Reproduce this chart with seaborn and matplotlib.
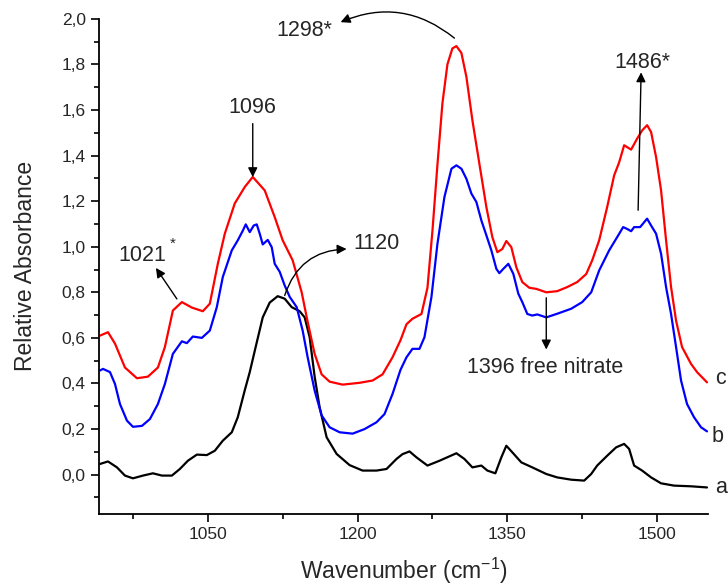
import numpy as np
import pandas as pd
import seaborn as sns
import matplotlib
matplotlib.use("Agg")
import matplotlib.pyplot as plt
from matplotlib.ticker import MultipleLocator, FuncFormatter

# ---- data ----
c_x = [942, 950, 957, 967, 979, 990, 1000, 1007, 1015, 1024, 1034, 1045, 1052, 1060, 1067, 1077, 1087, 1095,
       1107, 1117, 1125, 1135, 1144, 1150, 1157, 1164, 1172, 1185, 1202, 1215, 1225, 1235, 1243, 1249, 1255,
       1264, 1270, 1275, 1280, 1285, 1290, 1295, 1299, 1304, 1309, 1315, 1322, 1329, 1335, 1340, 1345, 1349,
       1354, 1359, 1365, 1372, 1379, 1389, 1400, 1410, 1420, 1429, 1435, 1442, 1450, 1457, 1462, 1467, 1474,
       1480, 1485, 1490, 1494, 1499, 1504, 1509, 1514, 1519, 1525, 1534, 1540, 1550]
c_y = [0.61, 0.625, 0.575, 0.47, 0.423, 0.43, 0.47, 0.56, 0.72, 0.757, 0.733, 0.717, 0.75, 0.925, 1.057, 1.19,
       1.262, 1.306, 1.247, 1.13, 1.028, 0.94, 0.80, 0.67, 0.53, 0.44, 0.408, 0.395, 0.403, 0.413, 0.44, 0.515,
       0.59, 0.66, 0.684, 0.705, 0.82, 1.07, 1.36, 1.63, 1.80, 1.87, 1.88, 1.85, 1.745, 1.555, 1.364, 1.174,
       1.042, 0.976, 0.99, 1.025, 0.998, 0.91, 0.845, 0.82, 0.815, 0.80, 0.805, 0.823, 0.845, 0.88, 0.94, 1.028,
       1.174, 1.313, 1.37, 1.445, 1.426, 1.474, 1.51, 1.533, 1.503, 1.393, 1.247, 1.028, 0.823, 0.676, 0.56,
       0.486, 0.45, 0.405]

b_x = [942, 945, 952, 957, 962, 969, 975, 984, 992, 1000, 1007, 1015, 1024, 1029, 1035, 1044, 1052, 1059, 1065,
       1074, 1080, 1085, 1088, 1092, 1096, 1099, 1102, 1105, 1110, 1114, 1117, 1122, 1127, 1132, 1139, 1145,
       1150, 1157, 1164, 1172, 1182, 1195, 1207, 1219, 1227, 1235, 1243, 1249, 1255, 1262, 1267, 1274, 1280,
       1287, 1294, 1299, 1304, 1309, 1314, 1319, 1324, 1329, 1334, 1339, 1342, 1346, 1351, 1356, 1361, 1365,
       1370, 1375, 1380, 1389, 1400, 1414, 1425, 1434, 1442, 1452, 1460, 1466, 1470, 1474, 1477, 1483, 1490,
       1494, 1499, 1504, 1509, 1514, 1519, 1524, 1530, 1537, 1544, 1550]
b_y = [0.457, 0.464, 0.45, 0.398, 0.31, 0.237, 0.21, 0.214, 0.244, 0.31, 0.398, 0.53, 0.585, 0.577, 0.606, 0.60,
       0.632, 0.735, 0.867, 0.984, 1.028, 1.07, 1.098, 1.064, 1.093, 1.098, 1.057, 1.01, 1.03, 0.998, 0.925,
       0.89, 0.83, 0.78, 0.735, 0.632, 0.515, 0.369, 0.26, 0.208, 0.186, 0.18, 0.20, 0.23, 0.266, 0.354, 0.46,
       0.515, 0.552, 0.552, 0.603, 0.78, 1.013, 1.218, 1.342, 1.357, 1.342, 1.298, 1.233, 1.196, 1.115, 1.05,
       0.984, 0.903, 0.884, 0.903, 0.925, 0.881, 0.794, 0.757, 0.705, 0.698, 0.703, 0.69, 0.706, 0.728, 0.757,
       0.80, 0.896, 0.984, 1.042, 1.086, 1.078, 1.068, 1.086, 1.086, 1.123, 1.093, 1.057, 0.969, 0.823, 0.705,
       0.56, 0.413, 0.31, 0.252, 0.208, 0.19]

a_x = [942, 950, 959, 967, 975, 985, 995, 1004, 1014, 1022, 1030, 1039, 1049, 1057, 1065, 1074, 1080, 1087,
       1092, 1099, 1105, 1112, 1120, 1127, 1134, 1142, 1147, 1152, 1157, 1162, 1169, 1179, 1192, 1205, 1219,
       1229, 1239, 1245, 1252, 1259, 1270, 1282, 1299, 1307, 1315, 1324, 1330, 1338, 1344, 1349, 1355, 1364,
       1375, 1389, 1400, 1414, 1427, 1434, 1440, 1450, 1459, 1467, 1472, 1477, 1485, 1494, 1504, 1517, 1534, 1550]
a_y = [0.047, 0.058, 0.032, -0.004, -0.016, -0.004, 0.006, -0.004, -0.004, 0.025, 0.061, 0.088, 0.086, 0.105,
       0.149, 0.186, 0.252, 0.37, 0.45, 0.58, 0.69, 0.755, 0.783, 0.772, 0.735, 0.717, 0.69, 0.603, 0.43, 0.296,
       0.164, 0.091, 0.042, 0.018, 0.018, 0.025, 0.069, 0.09, 0.102, 0.076, 0.04, 0.061, 0.094, 0.069, 0.032,
       0.04, 0.018, 0.006, 0.076, 0.127, 0.098, 0.054, 0.032, 0.003, -0.012, -0.022, -0.026, 0.003, 0.04, 0.083,
       0.12, 0.135, 0.113, 0.04, 0.018, -0.012, -0.038, -0.048, -0.051, -0.056]

series_names = ["a", "b", "c"]
series_colors = ["black", "#0000ff", "#ff0000"]
x_ticks = [1050, 1200, 1350, 1500]
y_ticks = [0.0, 0.2, 0.4, 0.6, 0.8, 1.0, 1.2, 1.4, 1.6, 1.8, 2.0]

# ---- style ----
sns.set_style("ticks")
plt.rcParams['font.family'] = ['Liberation Sans', 'DejaVu Sans']
plt.rcParams['mathtext.fontset'] = 'custom'
plt.rcParams['mathtext.rm'] = 'Liberation Sans'
plt.rcParams['mathtext.it'] = 'Liberation Sans'

fig = plt.figure(figsize=(7.28, 5.88), dpi=100)
ax = fig.add_axes([99 / 728, 1 - 514 / 588, (708 - 99) / 728, (514 - 18.75) / 588])

for name, col, xs, ys in zip(series_names, series_colors, [a_x, b_x, c_x], [a_y, b_y, c_y]):
    df = pd.DataFrame({"x": xs, "y": ys})
    sns.lineplot(data=df, x="x", y="y", ax=ax, color=col, linewidth=1.6, sort=False, estimator=None,
                 solid_joinstyle='round', solid_capstyle='round')

ax.set_xlim(941, 1551)
ax.set_ylim(-0.1725, 2.0)
ax.set_xticks(x_ticks)
ax.set_yticks(y_ticks)
ax.xaxis.set_minor_locator(MultipleLocator(75))
ax.yaxis.set_minor_locator(MultipleLocator(0.1))
ax.yaxis.set_major_formatter(FuncFormatter(lambda v, p: f"{v:.1f}".replace('.', ',')))
ax.tick_params(axis='both', which='major', direction='out', length=6, width=1.2, labelsize=12.5, color='black')
ax.tick_params(axis='both', which='minor', direction='out', length=3.5, width=1.2, color='black')
for s in ['top', 'right']:
    ax.spines[s].set_visible(False)
for s in ['left', 'bottom']:
    ax.spines[s].set_linewidth(1.3)
    ax.spines[s].set_color('black')

ax.set_xlabel("Wavenumber (cm$^{\\mathrm{-1}}$)", fontsize=16.5, labelpad=10)
ax.set_ylabel("Relative Absorbance", fontsize=16.5, labelpad=18)

fs = 15.5
arrow_kw = dict(arrowstyle='-|>', color='black', lw=1.0, shrinkA=0, shrinkB=0, mutation_scale=14)

# 1298*
ax.text(1147, 1.95, "1298*", fontsize=fs, ha='center', va='center')
ax.annotate('', xy=(1183, 1.985), xytext=(1297, 1.915),
            arrowprops=dict(connectionstyle='arc3,rad=0.3', **arrow_kw))
# 1486*
ax.text(1485, 1.81, "1486*", fontsize=fs, ha='center', va='center')
ax.annotate('', xy=(1484, 1.765), xytext=(1481, 1.16), arrowprops=dict(**arrow_kw))
# 1096
ax.text(1095, 1.61, "1096", fontsize=fs, ha='center', va='center')
ax.annotate('', xy=(1095, 1.305), xytext=(1095, 1.54), arrowprops=dict(**arrow_kw))
# 1021*
ax.text(984, 0.96, "1021", fontsize=fs, ha='center', va='center')
ax.text(1015, 1.013, "*", fontsize=11, ha='center', va='center')
ax.annotate('', xy=(998, 0.907), xytext=(1019, 0.771), arrowprops=dict(**arrow_kw))
# 1120
ax.text(1219, 1.013, "1120", fontsize=fs, ha='center', va='center')
ax.annotate('', xy=(1189, 0.99), xytext=(1127, 0.786),
            arrowprops=dict(connectionstyle='arc3,rad=-0.35', **arrow_kw))
# 1396 free nitrate
ax.text(1388, 0.471, "1396 free nitrate", fontsize=fs, ha='center', va='center')
ax.annotate('', xy=(1389, 0.549), xytext=(1389, 0.776), arrowprops=dict(**arrow_kw))

# curve labels
ax.text(1564, 0.42, "c", fontsize=fs, ha='center', va='center', clip_on=False)
ax.text(1561, 0.166, "b", fontsize=fs, ha='center', va='center', clip_on=False)
ax.text(1564, -0.057, "a", fontsize=fs, ha='center', va='center', clip_on=False)

fig.savefig("out.png", dpi=100)
